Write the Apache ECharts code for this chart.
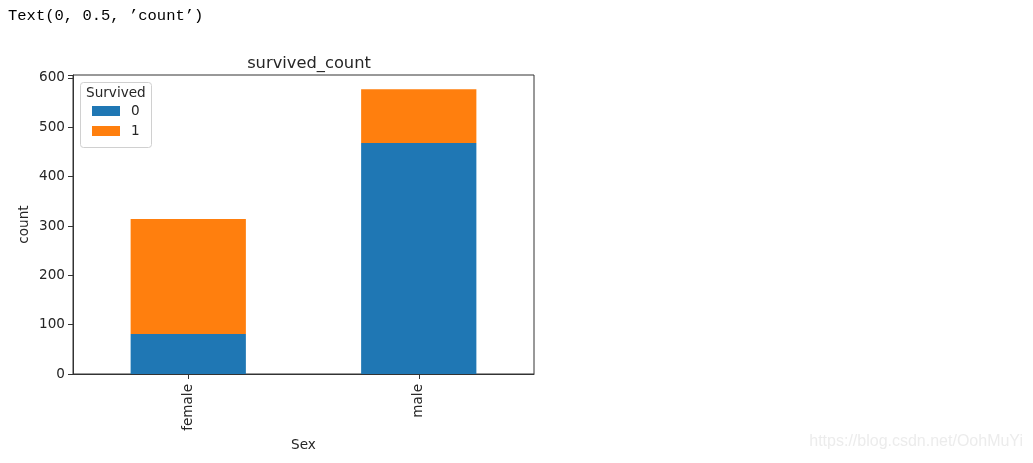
<!DOCTYPE html>
<html><head><meta charset="utf-8">
<script src="https://cdn.jsdelivr.net/npm/echarts@6/dist/echarts.min.js"></script>
<style>html,body{margin:0;padding:0;background:#fff}#c{width:1033px;height:463px}</style>
</head><body><div id="c"></div>
<script>
const categories = ['female', 'male'];
const died = [81, 468];
const survived = [233, 109];
const seriesNames = ['0', '1'];
const yTicks = [0, 100, 200, 300, 400, 500, 600];

const font = 'DejaVu Sans';
const chart = echarts.init(document.getElementById('c'), null, {renderer: 'canvas'});
chart.setOption({
  animation: false,
  backgroundColor: '#fff',
  title: {
    text: 'survived_count', left: 304, top: 51, textAlign: 'center',
    textStyle: {fontFamily: font, fontSize: 16.3, fontWeight: 'normal', color: '#262626'}
  },
  grid: {left: 73, right: 499, top: 75, bottom: 89, show: true, borderColor: '#333', borderWidth: 1, backgroundColor: 'transparent'},
  legend: {
    data: seriesNames, orient: 'vertical', left: 92, top: 104, z: 10,
    itemWidth: 28, itemHeight: 10, itemGap: 6, icon: 'rect',
    textStyle: {fontFamily: font, fontSize: 13.6, color: '#262626', padding: [0, 0, 0, 6]},
    padding: 0, selectedMode: false
  },
  xAxis: {
    type: 'category', data: categories, name: 'Sex', nameLocation: 'middle', nameGap: 60,
    nameTextStyle: {fontFamily: font, fontSize: 13.6, color: '#262626'},
    axisLine: {show: true, lineStyle: {color: '#333', width: 1}},
    axisTick: {show: true, alignWithLabel: true, length: 5, lineStyle: {color: '#333'}},
    axisLabel: {rotate: 90, fontFamily: font, fontSize: 13.6, color: '#262626', margin: 10},
    splitLine: {show: false}
  },
  yAxis: {
    type: 'value', min: 0, max: 606, interval: 100, name: 'count', nameLocation: 'middle', nameGap: 42,
    nameTextStyle: {fontFamily: font, fontSize: 13.6, color: '#262626'},
    axisLine: {show: true, lineStyle: {color: '#333', width: 1}},
    axisTick: {show: true, length: 5, lineStyle: {color: '#333'}},
    axisLabel: {fontFamily: font, fontSize: 13.6, color: '#262626', margin: 8,
      formatter: v => (yTicks.indexOf(v) >= 0 ? String(v) : '')},
    splitLine: {show: false}
  },
  series: [
    {name: seriesNames[0], type: 'bar', stack: 's', data: died, barWidth: '50%', itemStyle: {color: '#1f77b4'}},
    {name: seriesNames[1], type: 'bar', stack: 's', data: survived, barWidth: '50%', itemStyle: {color: '#ff7f0e'}}
  ],
  graphic: [
    {type: 'text', left: 8, top: 8, style: {text: "Text(0, 0.5, ’count’)", font: '15.5px "Liberation Mono"', fill: '#000'}},
    {type: 'rect', left: 80, top: 82, z: 1, shape: {width: 71, height: 65, r: 3}, style: {fill: '#fff', stroke: '#d0d0d0', lineWidth: 1}},
    {type: 'text', left: 86, top: 86, z: 2, style: {text: 'Survived', font: '13.6px "DejaVu Sans"', fill: '#262626'}},
    {type: 'text', right: 10, top: 434, style: {text: 'https://blog.csdn.net/OohMuYi', font: '16px "Liberation Sans"', fill: '#ececec'}}
  ]
});
</script></body></html>
